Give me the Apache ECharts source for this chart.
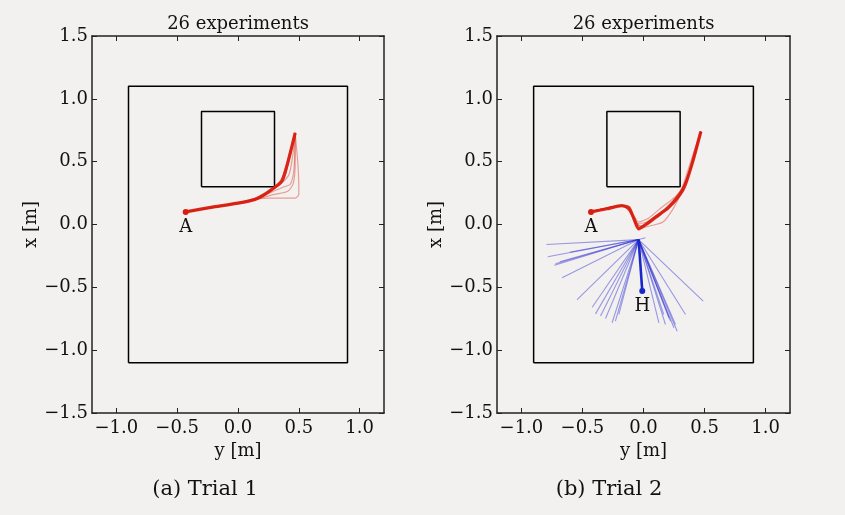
<!DOCTYPE html>
<html><head><meta charset="utf-8">
<script src="https://cdn.jsdelivr.net/npm/echarts@6/dist/echarts.min.js"></script>
<style>html,body{margin:0;padding:0;background:#f2f1ef}#c{width:845px;height:515px}</style>
</head><body><div id="c"></div><script>
// ---- data (points are [y, x] in metres) ----
const yTicks = [-1.0, -0.5, 0.0, 0.5, 1.0];
const titles = ['26 experiments', '26 experiments'];
const captions = ['(a) Trial 1', '(b) Trial 2'];
const arena = [[-0.9,-1.1],[0.9,-1.1],[0.9,1.1],[-0.9,1.1],[-0.9,-1.1]];
const obstacle = [[-0.3,0.3],[0.3,0.3],[0.3,0.9],[-0.3,0.9],[-0.3,0.3]];
const startA = [-0.43, 0.10];
const pointH = [-0.01, -0.53];
const handOrigin = [-0.04, -0.12];

const trial1Mean = [[-0.43,0.10],[-0.2,0.14],[0.0,0.17],[0.14,0.20],[0.22,0.24],[0.28,0.28],[0.36,0.345],[0.40,0.46],[0.47,0.73]];
const trial1Runs = [
  [[-0.43,0.10],[0.0,0.17],[0.14,0.20],[0.25,0.21],[0.36,0.21],[0.47,0.21],[0.50,0.24],[0.495,0.44],[0.47,0.73]],
  [[-0.43,0.10],[0.0,0.17],[0.14,0.20],[0.30,0.24],[0.41,0.265],[0.455,0.33],[0.47,0.50],[0.47,0.73]],
  [[-0.43,0.10],[0.0,0.17],[0.14,0.20],[0.28,0.26],[0.38,0.30],[0.43,0.32],[0.46,0.44],[0.47,0.73]],
  [[-0.43,0.10],[0.0,0.17],[0.14,0.20],[0.27,0.27],[0.36,0.33],[0.42,0.40],[0.45,0.55],[0.47,0.73]],
  [[-0.43,0.10],[0.0,0.165],[0.15,0.20],[0.29,0.28],[0.37,0.35],[0.41,0.47],[0.47,0.73]],
  [[-0.43,0.10],[0.0,0.175],[0.13,0.205],[0.27,0.28],[0.35,0.35],[0.39,0.45],[0.47,0.73]]
];

const trial2Mean = [[-0.43,0.10],[-0.30,0.125],[-0.18,0.15],[-0.12,0.135],[-0.08,0.05],[-0.04,-0.035],[0.02,0.0],[0.10,0.06],[0.20,0.13],[0.30,0.24],[0.34,0.31],[0.40,0.49],[0.47,0.74]];
const trial2Runs = [
  [[-0.43,0.10],[-0.18,0.15],[-0.12,0.13],[-0.07,0.04],[-0.03,-0.03],[0.06,-0.01],[0.16,0.02],[0.24,0.12],[0.31,0.25],[0.36,0.36],[0.43,0.58],[0.47,0.74]],
  [[-0.43,0.10],[-0.18,0.15],[-0.13,0.12],[-0.06,0.02],[-0.02,-0.02],[0.08,0.04],[0.20,0.15],[0.30,0.26],[0.37,0.40],[0.44,0.62],[0.47,0.74]],
  [[-0.43,0.10],[-0.18,0.15],[-0.10,0.10],[-0.04,0.02],[0.04,0.05],[0.14,0.13],[0.26,0.22],[0.33,0.31],[0.39,0.46],[0.47,0.74]],
  [[-0.43,0.10],[-0.18,0.15],[-0.12,0.12],[-0.05,0.0],[0.0,-0.01],[0.12,0.06],[0.22,0.16],[0.31,0.28],[0.36,0.42],[0.42,0.60],[0.47,0.74]],
  [[-0.43,0.10],[-0.18,0.15],[-0.13,0.13],[-0.08,0.04],[-0.04,-0.03],[0.04,0.03],[0.15,0.10],[0.27,0.21],[0.32,0.29],[0.38,0.44],[0.45,0.68],[0.47,0.74]],
  [[-0.43,0.10],[-0.18,0.15],[-0.11,0.11],[-0.05,0.01],[0.03,0.02],[0.18,0.11],[0.28,0.20],[0.33,0.30],[0.41,0.52],[0.47,0.74]]
];

const handEnds = [
  [-0.795,-0.159],[-0.784,-0.257],[-0.721,-0.313],[-0.73,-0.324],[-0.686,-0.297],
  [-0.667,-0.424],[-0.544,-0.597],[-0.42,-0.658],[-0.393,-0.711],[-0.352,-0.729],
  [-0.311,-0.748],[-0.257,-0.782],[-0.23,-0.769],[-0.202,-0.716],[0.126,-0.782],
  [0.166,-0.716],[0.18,-0.796],[0.208,-0.743],[0.221,-0.769],[0.249,-0.822],
  [0.262,-0.796],[0.276,-0.849],[0.344,-0.716],[0.489,-0.61],[0.016,-0.106],[-0.6,-0.22]
];

// ---- styles ----
const FONT = 'DejaVu Serif';
const INK = '#111';
const FRAME = '#222';
const RED = '#d81e10';
const BLUE = '#1a28c8';
const THIN_BLUE = '#2a2ad0';
const fmt = v => (v < 0 ? '\u2212' : '') + Math.abs(v).toFixed(1);

const grids = [
  {left: 92, top: 36, width: 292, height: 377},
  {left: 497, top: 36, width: 293, height: 377}
];
const xAxes = [], yAxes = [];
grids.forEach((g, gi) => {
  const axLine = {show: true, onZero: false, lineStyle: {color: FRAME, width: 1.5}};
  const tick = {show: true, inside: true, length: 5, lineStyle: {color: FRAME, width: 1}};
  xAxes.push({
    type: 'value', gridIndex: gi, position: 'bottom', min: -1.2, max: 1.2,
    axisLine: axLine, splitLine: {show: false},
    axisTick: Object.assign({customValues: yTicks}, tick),
    axisLabel: {customValues: yTicks, formatter: fmt, margin: 6, color: INK, fontFamily: FONT, fontSize: 18},
    name: 'y [m]', nameLocation: 'middle', nameGap: 22,
    nameTextStyle: {color: INK, fontFamily: FONT, fontSize: 18}
  });
  xAxes.push({
    type: 'value', gridIndex: gi, position: 'top', min: -1.2, max: 1.2,
    axisLine: axLine, splitLine: {show: false},
    axisTick: Object.assign({customValues: yTicks}, tick),
    axisLabel: {show: false},
    name: titles[gi], nameLocation: 'middle', nameGap: 3,
    nameTextStyle: {color: INK, fontFamily: FONT, fontSize: 18}
  });
  yAxes.push({
    type: 'value', gridIndex: gi, position: 'left', min: -1.5, max: 1.5, interval: 0.5,
    axisLine: axLine, splitLine: {show: false}, axisTick: tick,
    axisLabel: {formatter: fmt, margin: 4, color: INK, fontFamily: FONT, fontSize: 18, showMinLabel: true, showMaxLabel: true},
    name: 'x [m]', nameLocation: 'middle', nameGap: 48,
    nameTextStyle: {color: INK, fontFamily: FONT, fontSize: 18}
  });
  yAxes.push({
    type: 'value', gridIndex: gi, position: 'right', min: -1.5, max: 1.5, interval: 0.5,
    axisLine: axLine, splitLine: {show: false}, axisTick: tick, axisLabel: {show: false}
  });
});

function line(data, gi, color, width, opacity, z, smooth) {
  return {type: 'line', xAxisIndex: gi * 2, yAxisIndex: gi * 2, data: data, symbol: 'none',
    smooth: smooth || false, silent: true, animation: false, z: z,
    lineStyle: {color: color, width: width, opacity: opacity}};
}
function dot(p, gi, color, text) {
  return {type: 'scatter', xAxisIndex: gi * 2, yAxisIndex: gi * 2, data: [p], symbolSize: 6,
    silent: true, animation: false, z: 10, itemStyle: {color: color, opacity: 1},
    label: {show: true, formatter: text, position: 'bottom', distance: 3, color: INK, fontFamily: FONT, fontSize: 18}};
}

const series = [];
[0, 1].forEach(gi => {
  series.push(line(arena, gi, '#000', 1.5, 1, 2));
  series.push(line(obstacle, gi, '#000', 1.5, 1, 2));
});
trial1Runs.forEach(r => series.push(line(r, 0, RED, 1.2, 0.4, 3, 0.25)));
series.push(line(trial1Mean, 0, RED, 3.2, 0.95, 4, 0.25));
series.push(dot(startA, 0, RED, 'A'));

handEnds.forEach(e => series.push(line([handOrigin, e], 1, THIN_BLUE, 1.1, 0.45, 3)));
series.push(line([handOrigin, pointH], 1, BLUE, 2.6, 1, 5));
series.push(dot(pointH, 1, BLUE, 'H'));
trial2Runs.forEach(r => series.push(line(r, 1, RED, 1.2, 0.4, 3, 0.2)));
series.push(line(trial2Mean, 1, RED, 3.2, 0.95, 4, 0.2));
series.push(dot(startA, 1, RED, 'A'));

const chart = echarts.init(document.getElementById('c'), null, {renderer: 'canvas'});
chart.setOption({
  backgroundColor: '#f2f1ef',
  animation: false,
  grid: grids,
  xAxis: xAxes,
  yAxis: yAxes,
  series: series,
  graphic: [
    {type: 'text', x: 205, y: 490, style: {text: captions[0], font: '21px "DejaVu Serif"', fill: INK, align: 'center', verticalAlign: 'middle'}},
    {type: 'text', x: 609, y: 490, style: {text: captions[1], font: '21px "DejaVu Serif"', fill: INK, align: 'center', verticalAlign: 'middle'}}
  ]
});
</script></body></html>
